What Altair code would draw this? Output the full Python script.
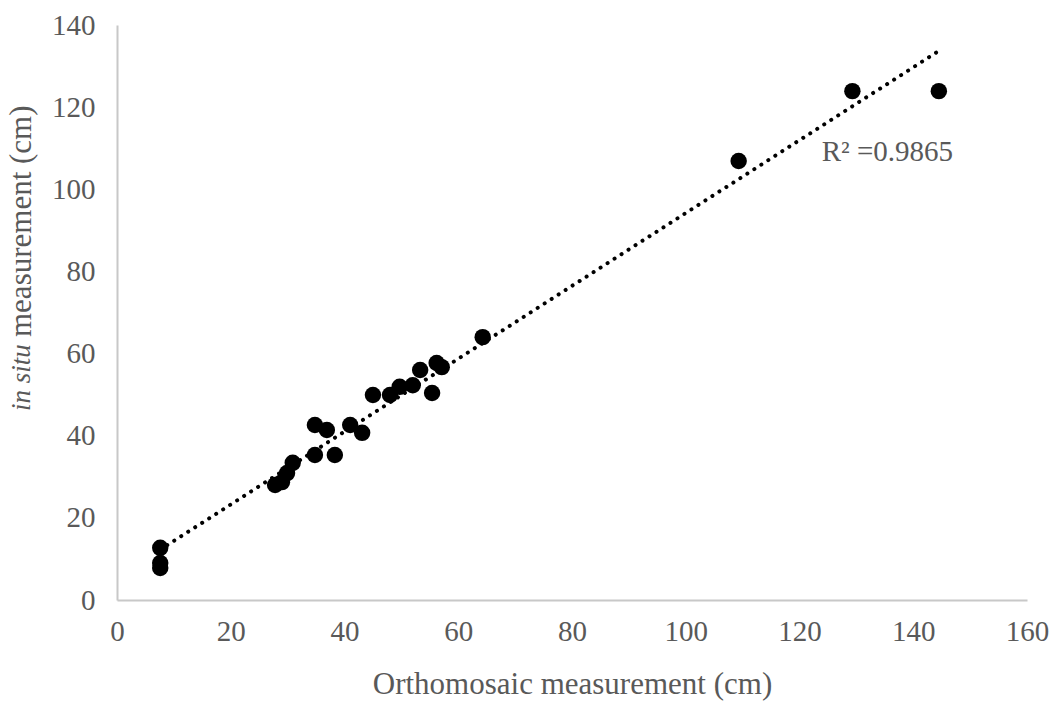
import altair as alt
import pandas as pd

ortho = [7.6, 7.6, 7.6, 27.8, 29.0, 29.9, 30.9, 34.8, 36.9, 34.8, 38.3, 41.0, 43.1,
         45.0, 48.0, 49.7, 52.0, 53.3, 55.4, 56.2, 57.1, 64.3, 109.3, 129.3, 144.5]
insitu = [12.7, 9.0, 7.8, 28.0, 28.7, 30.9, 33.4, 42.6, 41.4, 35.3, 35.3, 42.6, 40.7,
          49.9, 49.9, 51.9, 52.3, 56.0, 50.4, 57.7, 56.7, 64.0, 106.9, 123.9, 123.9]
x_ticks = [0, 20, 40, 60, 80, 100, 120, 140, 160]
y_ticks = [0, 20, 40, 60, 80, 100, 120, 140]
r2_text = ["R\u00b2 =0.9865"]
r2_pos = [123.9, 109.0]

df = pd.DataFrame({"x": ortho, "y": insitu})
FONT = "Liberation Serif"
GREY = "#595959"

xs = alt.Scale(domain=[0, 160], nice=False, zero=False)
ys = alt.Scale(domain=[0, 140], nice=False, zero=False)

base = alt.Chart(df)

trend = base.mark_line(color="black", strokeWidth=4, strokeDash=[0.1, 8.2],
                       strokeCap="round").transform_regression("x", "y").encode(
    x=alt.X("x:Q", scale=xs,
            axis=alt.Axis(values=x_ticks, title="Orthomosaic measurement (cm)",
                          grid=False, ticks=False, domainColor="#c8c8c8", domainWidth=2,
                          labelFont=FONT, labelFontSize=29, labelColor=GREY,
                          labelPadding=17, labelFlush=False,
                          titleFont=FONT, titleFontSize=31,
                          titleFontWeight="normal", titleColor=GREY, titlePadding=23)),
    y=alt.Y("y:Q", scale=ys,
            axis=alt.Axis(values=y_ticks, title=None, grid=False, ticks=False,
                          domainColor="#c8c8c8", domainWidth=2,
                          labelFont=FONT, labelFontSize=29, labelColor=GREY,
                          labelPadding=22, labelFlush=False)),
)

points = base.mark_circle(color="black", opacity=1, size=270).encode(
    x=alt.X("x:Q", scale=xs), y=alt.Y("y:Q", scale=ys))

r2 = alt.Chart(pd.DataFrame({"t": r2_text, "x": [r2_pos[0]], "y": [r2_pos[1]]})).mark_text(
    font=FONT, fontSize=29, color=GREY, align="left", baseline="middle").encode(
    x=alt.X("x:Q", scale=xs), y=alt.Y("y:Q", scale=ys), text="t:N")

ytitle_it = alt.Chart(pd.DataFrame({"t": ["in situ"]})).mark_text(
    font=FONT, fontSize=27, fontStyle="italic", color=GREY, angle=270,
    align="left", baseline="middle").encode(
    x=alt.value(-95), y=alt.value(386), text="t:N")

ytitle_rest = alt.Chart(pd.DataFrame({"t": ["measurement (cm)"]})).mark_text(
    font=FONT, fontSize=31, color=GREY, angle=270,
    align="left", baseline="middle").encode(
    x=alt.value(-95), y=alt.value(312), text="t:N")

chart = alt.layer(trend, points, r2, ytitle_it, ytitle_rest).properties(
    width=910, height=575,
    autosize=alt.AutoSizeParams(type="none"),
    padding={"left": 117, "top": 25, "right": 29, "bottom": 106},
    background="white",
).configure_view(stroke=None)

chart.save("out.html", embed_options={"renderer": "svg", "actions": False})
